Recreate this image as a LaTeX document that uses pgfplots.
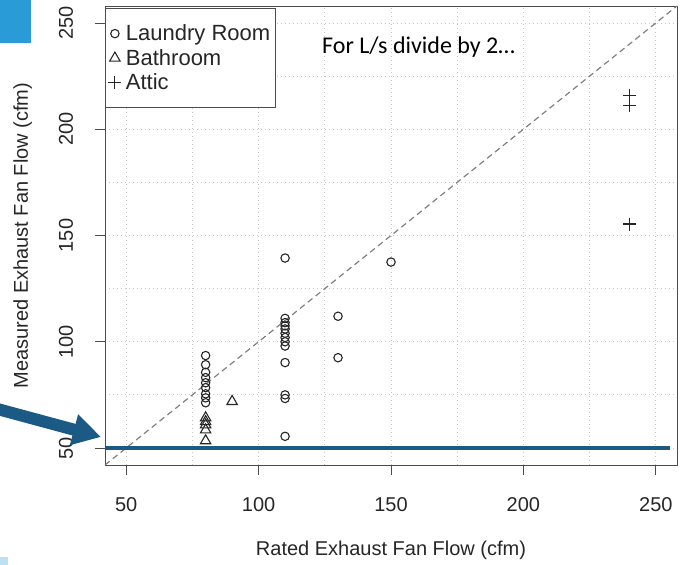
\documentclass[border=0pt]{standalone}
\usepackage{fontspec}
\setmainfont{Liberation Sans}
\newfontfamily\calibri{Carlito}
\usepackage{pgfplots}
\pgfplotsset{compat=1.18}
\usetikzlibrary{arrows.meta}
\definecolor{dkblue}{RGB}{27,90,133}
\definecolor{ltblue}{RGB}{41,155,214}
\definecolor{pale}{RGB}{190,224,245}
\begin{document}
\begin{tikzpicture}[x=1pt,y=1pt]
\fill[ltblue] (0,522) rectangle (31,565);
\fill[pale] (0,0) rectangle (8,8);
\begin{axis}[
  at={(105pt,100pt)}, anchor=south west,
  scale only axis, width=572pt, height=459pt,
  xmin=42, xmax=258, ymin=42, ymax=258,
  xtick={50,100,150,200,250}, ytick={50,100,150,200,250},
  minor xtick={75,125,175,225}, minor ytick={75,125,175,225},
  grid=both,
  major grid style={black!22, dash pattern=on 1pt off 3pt, line width=0.8pt},
  minor grid style={black!22, dash pattern=on 1pt off 3pt, line width=0.8pt},
  minor tick length=0pt,
  tick align=outside, tick pos=left, major tick length=10pt,
  tick style={black!70, line width=0.8pt},
  axis line style={black!70, line width=0.8pt},
  /pgf/number format/assume math mode=true,
  ticklabel style={font=\fontsize{20}{24}\selectfont, text=black!85},
  xticklabel style={anchor=base, inner sep=0pt, yshift=-37pt},
  yticklabel style={rotate=90, anchor=base, inner sep=0pt, yshift=22pt},
  label style={font=\fontsize{20}{24}\selectfont, text=black!85},
  xlabel={Rated Exhaust Fan Flow (cfm)},
  ylabel={Measured Exhaust Fan Flow (cfm)},
  xlabel style={at={(axis description cs:0.5,0)}, anchor=base, yshift=-91pt},
  ylabel style={at={(axis description cs:0,0.5)}, anchor=base, yshift=77pt},
  legend style={at={(0,1)}, anchor=north west, yshift=-2pt, draw=black!70, line width=0.8pt,
    font=\fontsize{22}{26}\selectfont, inner xsep=3pt, inner ysep=14pt, row sep=2pt,
    text=black!85, nodes={inner sep=2.5pt}},
  legend cell align=left,
  legend image code/.code={\draw[#1] plot coordinates {(0pt,0pt)}; \path (-2pt,0pt) (8pt,0pt);},
]
\addplot[no marks, black!50, line width=1.2pt, dash pattern=on 6pt off 4pt, forget plot] coordinates {(42,42) (258,258)};
\addplot[no marks, dkblue, line width=4pt, forget plot] coordinates {(42,50) (255.2,50)};
\addplot[only marks, mark=o, mark size=4.2pt, draw=black!85, line width=1.1pt] coordinates {
(80,93.5) (80,89.2) (80,85.6) (80,83.1) (80,80.7) (80,78.4) (80,75.5) (80,73.6) (80,71.3)
(110,139.4) (110,111) (110,109) (110,107.5) (110,106) (110,104) (110,102) (110,100) (110,98)
(110,90.2) (110,75) (110,73.3) (110,55.5)
(130,112) (130,92.5) (150,137.5)};
\addlegendentry{Laundry Room}
\addplot[only marks, mark=triangle, mark size=6pt, draw=black!85, line width=1.1pt] coordinates {
(80,64.2) (80,62.4) (80,60.9) (80,58.5) (80,53.4) (90,71.9)};
\addlegendentry{Bathroom}
\addplot[only marks, mark=+, mark size=6.5pt, draw=black!85, line width=1.1pt] coordinates {
(240,216) (240,211) (240,155.4)};
\addlegendentry{Attic}
\end{axis}
\node[anchor=west, inner sep=0pt, font=\calibri\fontsize{24}{28}\selectfont] at (322,518) {For L/s divide by 2…};
\draw[dkblue, line width=12pt, -{Triangle[length=28pt,width=30pt]}] (-10,158) -- (101,128);
\pgfresetboundingbox
\useasboundingbox (0,0) rectangle (681,565);
\end{tikzpicture}
\end{document}
